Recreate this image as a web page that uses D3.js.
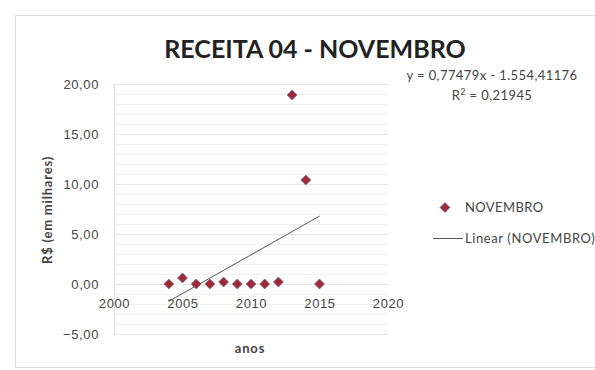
<!DOCTYPE html>
<html>
<head>
<meta charset="utf-8">
<script src="https://cdn.jsdelivr.net/npm/d3@7"></script>
<style>
  body { margin: 0; background: #fff; }
  svg { font-family: Lato, "Open Sans", sans-serif; }
</style>
</head>
<body>
<div id="chart"></div>
<script>
// data
var anos = [2004, 2005, 2006, 2007, 2008, 2009, 2010, 2011, 2012, 2013, 2014, 2015];
var novembro = [0, 0.6, 0, 0, 0.2, 0, 0, 0, 0.2, 18.9, 10.4, 0];
var xTicks = [2000, 2005, 2010, 2015, 2020];
var yTicks = [-5, 0, 5, 10, 15, 20];
// trendline from the equation shown on the chart
var trendCoef = [0.77479, -1554.41176];
var trendX = [2004, 2015];

var width = 595, height = 370;

var svg = d3.select("#chart").append("svg")
    .attr("width", width)
    .attr("height", height);

// chart frame
svg.append("rect")
    .attr("x", 15.5).attr("y", 15.5)
    .attr("width", 600).attr("height", 352)
    .attr("fill", "#fff")
    .attr("stroke", "#dcdcdc");

var x = d3.scaleLinear().domain([2000, 2020]).range([114, 388]);
var y = d3.scaleLinear().domain([-5, 20]).range([334, 84]);

// gridlines every 1 unit
svg.append("g").selectAll("line")
  .data(d3.range(-5, 21, 1))
  .enter().append("line")
    .attr("x1", x(2000)).attr("x2", x(2020))
    .attr("y1", function(d) { return Math.round(y(d)) + 0.5; })
    .attr("y2", function(d) { return Math.round(y(d)) + 0.5; })
    .attr("stroke", function(d) { return d % 5 == 0 ? "#e2e8e2" : "#eef2ee"; });

// y axis
var yAxis = d3.axisLeft(y)
    .tickValues(yTicks)
    .tickSize(0)
    .tickPadding(15)
    .tickFormat(function(d) { return d3.format(".2f")(d).replace(".", ","); });
var ya = svg.append("g")
    .attr("transform", "translate(" + x(2000) + ",0)")
    .call(yAxis);
ya.select(".domain").attr("stroke", "#d8e0d8");
ya.selectAll("text")
    .attr("font-size", 13)
    .attr("letter-spacing", 0.6)
    .attr("fill", "#444");

// x axis crosses at y = 0
var xAxis = d3.axisBottom(x)
    .tickValues(xTicks)
    .tickSize(0)
    .tickPadding(15)
    .tickFormat(d3.format("d"));
var xa = svg.append("g")
    .attr("transform", "translate(0," + y(0) + ")")
    .call(xAxis);
xa.select(".domain").remove();
xa.selectAll("text")
    .attr("font-size", 13)
    .attr("letter-spacing", 0.6)
    .attr("fill", "#444");

// trendline
svg.append("line")
    .attr("x1", x(trendX[0]))
    .attr("y1", y(trendCoef[0] * trendX[0] + trendCoef[1]))
    .attr("x2", x(trendX[1]))
    .attr("y2", y(trendCoef[0] * trendX[1] + trendCoef[1]))
    .attr("stroke", "#555")
    .attr("stroke-width", 1);

// points (square turned into a diamond)
var diamond = d3.symbol().type(d3.symbolSquare).size(50);
svg.selectAll("path.pt")
  .data(anos)
  .enter().append("path")
    .attr("class", "pt")
    .attr("d", diamond)
    .attr("transform", function(d, i) { return "translate(" + x(d) + "," + y(novembro[i]) + ") rotate(45)"; })
    .attr("fill", "#a02a32")
    .attr("stroke", "#7a6aa8")
    .attr("stroke-width", 0.7);

// title
svg.append("text")
    .attr("x", 315).attr("y", 58)
    .attr("text-anchor", "middle")
    .attr("font-size", 25)
    .attr("font-weight", "bold")
    .attr("fill", "#222")
    .text("RECEITA 04 - NOVEMBRO");

// axis titles
svg.append("text")
    .attr("transform", "translate(52,210) rotate(-90)")
    .attr("text-anchor", "middle")
    .attr("font-size", 13)
    .attr("font-weight", "bold")
    .attr("letter-spacing", 0.8)
    .attr("fill", "#444")
    .text("R$ (em milhares)");

svg.append("text")
    .attr("x", 250).attr("y", 353)
    .attr("text-anchor", "middle")
    .attr("font-size", 13)
    .attr("font-weight", "bold")
    .attr("letter-spacing", 0.8)
    .attr("fill", "#444")
    .text("anos");

// equation
svg.append("text")
    .attr("x", 492).attr("y", 80)
    .attr("text-anchor", "middle")
    .attr("font-size", 13)
    .attr("letter-spacing", 0.4)
    .attr("fill", "#444")
    .text("y = 0,77479x - 1.554,41176");
var r2 = svg.append("text")
    .attr("x", 492).attr("y", 100)
    .attr("text-anchor", "middle")
    .attr("font-size", 13)
    .attr("letter-spacing", 0.4)
    .attr("fill", "#444");
r2.append("tspan").text("R");
r2.append("tspan").attr("dy", -5).attr("font-size", 9).text("2");
r2.append("tspan").attr("dy", 5).text(" = 0,21945");

// legend
svg.append("path")
    .attr("d", diamond)
    .attr("transform", "translate(445,207.5) rotate(45)")
    .attr("fill", "#a02a32")
    .attr("stroke", "#7a6aa8")
    .attr("stroke-width", 0.7);
svg.append("text")
    .attr("x", 465).attr("y", 212)
    .attr("font-size", 13)
    .attr("letter-spacing", 0.4)
    .attr("fill", "#444")
    .text("NOVEMBRO");
svg.append("line")
    .attr("x1", 433).attr("x2", 463)
    .attr("y1", 238.5).attr("y2", 238.5)
    .attr("stroke", "#555");
svg.append("text")
    .attr("x", 465).attr("y", 243)
    .attr("font-size", 13)
    .attr("letter-spacing", 0.6)
    .attr("fill", "#444")
    .text("Linear (NOVEMBRO)");
</script>
</body>
</html>
